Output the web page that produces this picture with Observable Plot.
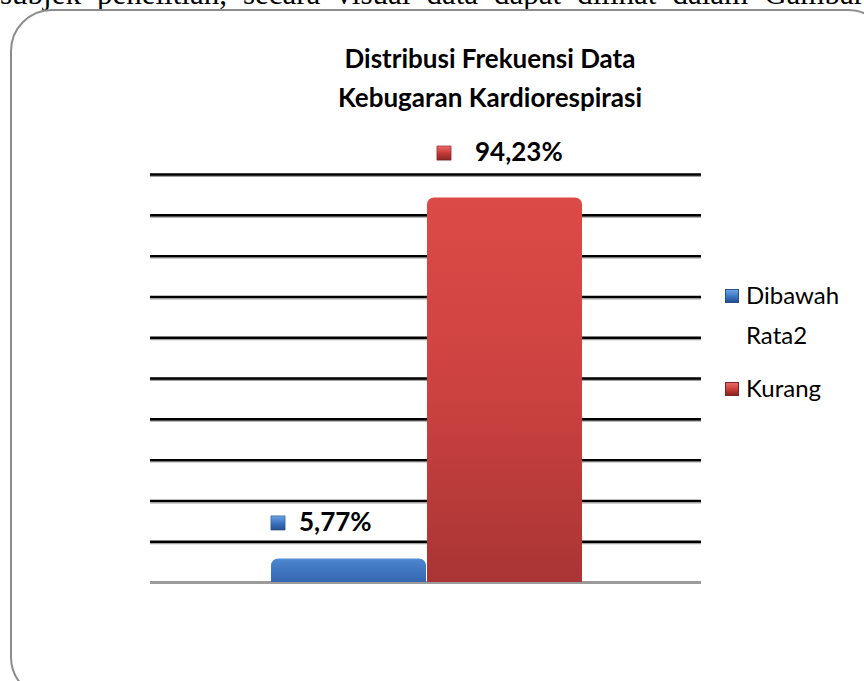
<!DOCTYPE html>
<html>
<head>
<meta charset="utf-8">
<script src="https://cdn.jsdelivr.net/npm/d3@7"></script>
<script src="https://cdn.jsdelivr.net/npm/@observablehq/plot@0.6"></script>
<style>
  html, body { margin:0; padding:0; background:#fff; }
  #wrap { position:relative; width:864px; height:681px; overflow:hidden; background:#fff; }
  #para { position:absolute; left:0; top:-24px; width:864px; font-family:"Liberation Serif","DejaVu Serif",serif; font-size:31px; line-height:36px; text-align:justify; text-align-last:justify; color:#000; white-space:nowrap; }
  #frame { position:absolute; left:10px; top:9px; width:880px; height:690px; border:2px solid #8c8c8c; border-radius:42px; box-sizing:border-box; }
  #title { position:absolute; left:240px; width:500px; top:39px; text-align:center; font-family:Lato,"Open Sans",sans-serif; font-weight:bold; font-size:26px; line-height:39px; color:#000; }
  #chart { position:absolute; left:0; top:0; }
  .leg { position:absolute; font-family:Lato,"Open Sans",sans-serif; font-size:24px; color:#000; line-height:40px; }
  .sw { position:absolute; width:14px; height:14px; box-sizing:border-box; }
</style>
</head>
<body>
<div id="wrap">
  <div id="para">subjek penelitian, secara visual data dapat dilihat dalam Gambar</div>
  <div id="frame"></div>
  <div id="chart"></div>
  <div id="title">Distribusi Frekuensi Data<br>Kebugaran Kardiorespirasi</div>
  <div id="legend"></div>
</div>
<script>
const categories = ["Dibawah Rata2", "Kurang"];
const values = [5.77, 94.23];
const valueLabels = ["5,77%", "94,23%"];
const gridTicks = [0, 10, 20, 30, 40, 50, 60, 70, 80, 90, 100];
const seriesGradients = ["url(#gBlue)", "url(#gRed)"];
const markerGradients = ["url(#mBlue)", "url(#mRed)"];

const data = categories.map((c, i) => ({cat: c, value: values[i], label: valueLabels[i]}));
const font = "Lato, 'Open Sans', sans-serif";

const plot = Plot.plot({
  width: 864,
  height: 681,
  marginLeft: 150,
  marginRight: 163,
  marginTop: 174,
  marginBottom: 99,
  style: {background: "transparent", overflow: "visible"},
  x: {domain: categories, range: [270, 583], paddingInner: 0.006, paddingOuter: 0, axis: null},
  y: {domain: [0, 100], axis: null},
  marks: [
    Plot.ruleY(gridTicks.filter(t => t > 0), {stroke: "#a0a0a0", strokeWidth: 2, dy: 1.5}),
    Plot.ruleY(gridTicks.filter(t => t > 0), {stroke: "#000", strokeWidth: 2.4}),
    Plot.ruleY([0], {stroke: "#9b9b9b", strokeWidth: 3}),
    ...categories.map((c, i) => Plot.barY(data.filter(d => d.cat === c), {
      x: "cat", y: "value", fill: seriesGradients[i], ry1: 7, rx: 7
    })),
    Plot.dot(data.filter(d => d.cat === categories[0]), {x: "cat", y: "value", symbol: "square", r: 8, fill: markerGradients[0], stroke: "#2a4f86", strokeWidth: 0.6, dx: -71, dy: -36}),
    Plot.text(data.filter(d => d.cat === categories[0]), {x: "cat", y: "value", text: "label", textAnchor: "start", dx: -50, dy: -36, fontSize: 26, fontWeight: "bold", fontFamily: font, fill: "#000"}),
    Plot.dot(data.filter(d => d.cat === categories[1]), {x: "cat", y: "value", symbol: "square", r: 8, fill: markerGradients[1], stroke: "#7a2323", strokeWidth: 0.6, dx: -61, dy: -45}),
    Plot.text(data.filter(d => d.cat === categories[1]), {x: "cat", y: "value", text: "label", textAnchor: "start", dx: -30, dy: -45, fontSize: 26, fontWeight: "bold", fontFamily: font, fill: "#000"})
  ]
});

const svg = d3.select(plot);
const defs = svg.insert("defs", ":first-child");
function vgrad(id, stops) {
  const g = defs.append("linearGradient").attr("id", id).attr("x1", 0).attr("y1", 0).attr("x2", 0).attr("y2", 1);
  stops.forEach(([o, c]) => g.append("stop").attr("offset", o).attr("stop-color", c));
}
vgrad("gBlue", [[0, "#5791d8"], [0.12, "#4a82cc"], [1, "#3567b0"]]);
vgrad("gRed", [[0, "#dc4a47"], [0.5, "#cc4240"], [1, "#a93534"]]);
vgrad("mBlue", [[0, "#6aa3e6"], [0.5, "#3c74c0"], [1, "#244f8f"]]);
vgrad("mRed", [[0, "#ec6b66"], [0.5, "#c63a38"], [1, "#8a2424"]]);
document.getElementById("chart").appendChild(plot);

const legendItems = [
  {lines: ["Dibawah", "Rata2"], top: 275, grad: "linear-gradient(#6aa3e6,#3c74c0 55%,#244f8f)", border: "#2a4f86"},
  {lines: ["Kurang"], top: 368, grad: "linear-gradient(#ec6b66,#c63a38 55%,#8a2424)", border: "#7a2323"}
];
const lg = document.getElementById("legend");
legendItems.forEach((it) => {
  const sw = document.createElement("div");
  sw.className = "sw";
  sw.style.left = "725px";
  sw.style.top = (it.top + 14) + "px";
  sw.style.background = it.grad;
  sw.style.border = "0.6px solid " + it.border;
  lg.appendChild(sw);
  const t = document.createElement("div");
  t.className = "leg";
  t.style.left = "746px";
  t.style.top = it.top + "px";
  t.innerHTML = it.lines.join("<br>");
  lg.appendChild(t);
});
</script>
</body>
</html>
